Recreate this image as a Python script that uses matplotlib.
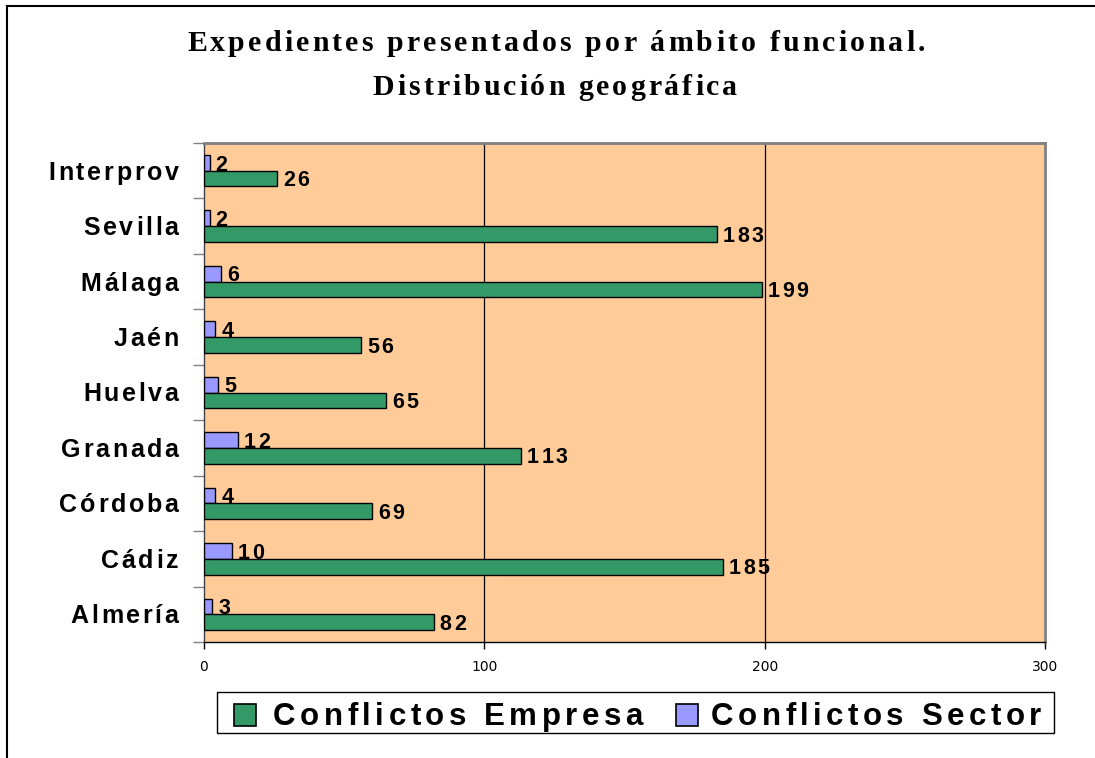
import matplotlib
matplotlib.use("Agg")
import matplotlib.pyplot as plt
from matplotlib.font_manager import FontProperties
from matplotlib.lines import Line2D
from matplotlib.patches import Rectangle

# ---------------- data ----------------
categories = ["Interprov", "Sevilla", "Málaga", "Jaén", "Huelva",
              "Granada", "Córdoba", "Cádiz", "Almería"]
empresa_values = [26, 183, 199, 56, 65, 113, 60, 185, 82]   # bar lengths as drawn
empresa_labels = ["26", "183", "199", "56", "65", "113", "69", "185", "82"]
sector_values = [2, 2, 6, 4, 5, 12, 4, 10, 3]
sector_labels = ["2", "2", "6", "4", "5", "12", "4", "10", "3"]
x_ticks = [0, 100, 200, 300]
series_names = ["Conflictos Empresa", "Conflictos Sector"]
title_lines = ["Expedientes presentados por ámbito funcional.",
               "Distribución geográfica"]

# ---------------- style ----------------
W, H, DPI = 1095, 758, 100
C_EMP = "#339966"
C_SEC = "#9999FF"
C_BG = "#FFCC99"

fig = plt.figure(figsize=(W / DPI, H / DPI), dpi=DPI)
renderer = fig.canvas.get_renderer()


def pf(x, y):
    return x / W, 1 - y / H


def adv(c, fp):
    w1, _, _ = renderer.get_text_width_height_descent("I" + c + "I", fp, ismath=False)
    w0, _, _ = renderer.get_text_width_height_descent("II", fp, ismath=False)
    return w1 - w0


def spaced_text(x, y, s, fp, track=0.0, ha="left", width=None, color="black", zorder=5):
    advs = [adv(c, fp) for c in s]
    if width is not None and len(s) > 1:
        track = (width - sum(advs)) / (len(s) - 1)
    total = sum(advs) + track * (len(s) - 1)
    if ha == "center":
        x0 = x - total / 2
    elif ha == "right":
        x0 = x - total
    else:
        x0 = x
    cx = x0
    for c, a in zip(s, advs):
        if c != " ":
            fig.text(*pf(cx + a / 2, y), c, fontproperties=fp, ha="center",
                     va="baseline", color=color, zorder=zorder)
        cx += a + track


# chart area border (top and left visible)
fig.add_artist(Line2D([7 / W, 1], [1 - 6 / H, 1 - 6 / H], color="black", lw=1.5,
                      transform=fig.transFigure))
fig.add_artist(Line2D([7 / W, 7 / W], [0, 1 - 6 / H], color="black", lw=1.5,
                      transform=fig.transFigure))

# axes
L, R, T, B = 204, 1045, 143, 642
ax = fig.add_axes([L / W, 1 - B / H, (R - L) / W, (B - T) / H])
ax.set_facecolor(C_BG)
n = len(categories)
ax.set_xlim(0, 300)
ax.set_ylim(n - 0.5, -0.5)

bh = 0.283
ypos = list(range(n))
ax.barh([y - bh / 2 for y in ypos], sector_values, height=bh, color=C_SEC,
        edgecolor="black", linewidth=1, zorder=3)
ax.barh([y + bh / 2 for y in ypos], empresa_values, height=bh, color=C_EMP,
        edgecolor="black", linewidth=1, zorder=3)

for xv in x_ticks[1:-1]:
    ax.axvline(xv, color="black", lw=0.9, zorder=1)

ax.set_xticks(x_ticks)
ax.set_xticklabels([str(v) for v in x_ticks], family=["Liberation Sans Narrow", "DejaVu Sans"],
                   fontsize=10)
ax.tick_params(axis="x", direction="out", length=5, width=1, color="black", pad=8)
ax.set_yticks([i + 0.5 for i in range(-1, n)])
ax.set_yticklabels([])
ax.tick_params(axis="y", direction="out", length=8, width=1, color="#808080")

for side in ["top", "right"]:
    ax.spines[side].set_color("#808080")
    ax.spines[side].set_linewidth(2)
ax.spines["left"].set_color("#404040")
ax.spines["left"].set_linewidth(1)
ax.spines["bottom"].set_color("black")
ax.spines["bottom"].set_linewidth(1)

# category labels
fp_cat = FontProperties(family="Liberation Sans", weight="bold", size=18)
cap_cat = 0.716 * 18 * DPI / 72
for i, cat in enumerate(categories):
    _, yc = ax.transData.transform((0, i))
    ypix = H - yc
    spaced_text(178.5, ypix + cap_cat / 2, cat, fp_cat, track=2.7, ha="right")

# value labels
vsize = 15.5
fp_val = FontProperties(family="Liberation Sans", weight="bold", size=vsize)
cap_val = 0.716 * vsize * DPI / 72
for i in range(n):
    for val, lab, off in ((sector_values[i], sector_labels[i], -bh / 2),
                          (empresa_values[i], empresa_labels[i], bh / 2)):
        xd, yd = ax.transData.transform((val, i + off))
        spaced_text(xd + 6, H - yd + cap_val / 2, lab, fp_val, track=2.5)

# title
fp_title = FontProperties(family="Liberation Serif", weight="bold", size=21.5)
spaced_text(556, 51, title_lines[0], fp_title, ha="center", width=738)
spaced_text(555, 95, title_lines[1], fp_title, ha="center", width=365)

# legend (manual)
fig.add_artist(Rectangle(pf(217, 733), 837 / W, 41 / H, transform=fig.transFigure,
                         facecolor="white", edgecolor="black", lw=1, zorder=4))
fp_leg = FontProperties(family="Liberation Sans", weight="bold", size=22.5)
for (mx, tx, tw), name, col in zip(((234, 273, 370), (676, 711, 330)), series_names, (C_EMP, C_SEC)):
    fig.add_artist(Rectangle(pf(mx, 726), 22 / W, 22 / H, transform=fig.transFigure,
                             facecolor=col, edgecolor="black", lw=1.2, zorder=5))
    spaced_text(tx, 725, name, fp_leg, ha="left", width=tw)

fig.savefig("out.png", dpi=DPI)
